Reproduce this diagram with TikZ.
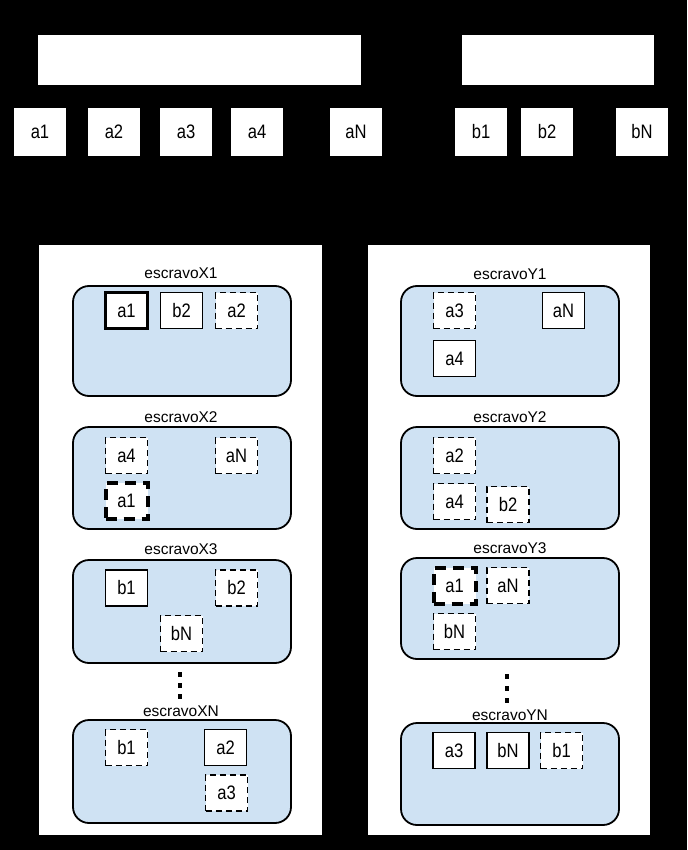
\documentclass[tikz,border=0pt]{standalone}
\usepackage{fontspec}
\setmainfont{Liberation Sans}
\newfontfamily\boxfont[FakeStretch=0.85]{Liberation Sans}
\definecolor{cardblue}{HTML}{CFE2F3}
\begin{document}
\begin{tikzpicture}[x=1pt,y=-1pt,
  hdr/.style={fill=white, inner sep=0pt, minimum width=52pt, minimum height=48pt, font=\boxfont\fontsize{19.5}{22}\selectfont},
  bigbar/.style={fill=white, inner sep=0pt},
  panel/.style={fill=white, inner sep=0pt},
  card/.style={draw=black, fill=cardblue, line width=1.8pt, rounded corners=16pt, inner sep=0pt, minimum width=218pt},
  lbl/.style={font=\fontsize{15.5}{18}\selectfont, inner sep=0pt},
  item/.style={draw=black, fill=white, line width=1.6pt, minimum width=42pt, minimum height=36pt, inner sep=0pt, font=\boxfont\fontsize{19.5}{22}\selectfont},
  prim/.style={item, line width=3.8pt},
  cand/.style={item, dash pattern=on 6pt off 4pt},
  primcand/.style={item, line width=4pt, dash pattern=on 11pt off 7pt},
  dotmark/.style={fill=black, inner sep=0pt, minimum width=4pt, minimum height=5pt}
]
\fill[black] (0,0) rectangle (687,850);
\useasboundingbox (0,0) rectangle (687,850);

% top bars
\node[bigbar, minimum width=323pt, minimum height=50pt] (tabA) at (199.5,60) {};
\node[bigbar, minimum width=192pt, minimum height=50pt] (tabB) at (558,60) {};

% top item row
\node[hdr] (ha1) at (40,132) {a1};
\node[hdr] (ha2) at (114,132) {a2};
\node[hdr] (ha3) at (186,132) {a3};
\node[hdr] (ha4) at (257,132) {a4};
\node[hdr] (haN) at (356,132) {aN};
\node[hdr] (hb1) at (481,132) {b1};
\node[hdr] (hb2) at (547,132) {b2};
\node[hdr] (hbN) at (642,132) {bN};

% panels
\node[panel, minimum width=283pt, minimum height=590pt] (panX) at (180.5,540) {};
\node[panel, minimum width=282pt, minimum height=590pt] (panY) at (509,540) {};

% ---------- X side ----------
\node[lbl] (lX1) at (181,273) {escravoX1};
\node[card, minimum height=110pt] (cX1) at (182,341) {};
\node[prim] (x1a1) at (126.5,310.5) {a1};
\node[item] (x1b2) at (181.5,310.5) {b2};
\node[cand] (x1a2) at (236.5,310.5) {a2};

\node[lbl] (lX2) at (181,417) {escravoX2};
\node[card, minimum height=102pt] (cX2) at (182,478) {};
\node[cand] (x2a4) at (126.5,455.5) {a4};
\node[cand] (x2aN) at (236.5,455.5) {aN};
\node[primcand] (x2a1) at (126.5,501) {a1};

\node[lbl] (lX3) at (181,549) {escravoX3};
\node[card, minimum height=103pt] (cX3) at (182,611.5) {};
\node[item] (x3b1) at (126.5,588) {b1};
\node[cand] (x3b2) at (236.5,588) {b2};
\node[cand] (x3bN) at (181.5,633.5) {bN};

\node[dotmark] (dX1) at (180,674) {};
\node[dotmark] (dX2) at (180,685) {};
\node[dotmark] (dX3) at (180,696) {};

\node[lbl] (lXN) at (181,711) {escravoXN};
\node[card, minimum height=103pt] (cXN) at (182,771.5) {};
\node[cand] (xNb1) at (126.5,747.5) {b1};
\node[item] (xNa2) at (225.5,747.5) {a2};
\node[cand] (xNa3) at (226.5,793) {a3};

% ---------- Y side ----------
\node[lbl] (lY1) at (510,274) {escravoY1};
\node[card, minimum height=110pt] (cY1) at (510,341) {};
\node[cand] (y1a3) at (454.5,310.5) {a3};
\node[item] (y1aN) at (563.5,310.5) {aN};
\node[item] (y1a4) at (454.5,358.5) {a4};

\node[lbl] (lY2) at (510,417) {escravoY2};
\node[card, minimum height=102pt] (cY2) at (510,478) {};
\node[cand] (y2a2) at (454.5,455.5) {a2};
\node[cand] (y2a4) at (454.5,501.5) {a4};
\node[cand] (y2b2) at (508,504.5) {b2};

\node[lbl] (lY3) at (510,548) {escravoY3};
\node[card, minimum height=101pt] (cY3) at (510,608.5) {};
\node[primcand] (y3a1) at (454.5,586) {a1};
\node[cand] (y3aN) at (508,585.5) {aN};
\node[cand] (y3bN) at (454.5,631.5) {bN};

\node[dotmark] (dY1) at (507,676) {};
\node[dotmark] (dY2) at (507,688) {};
\node[dotmark] (dY3) at (507,700) {};

\node[lbl] (lYN) at (510,715) {escravoYN};
\node[card, minimum height=102pt] (cYN) at (510,774) {};
\node[item] (yNa3) at (454,750.5) {a3};
\node[item] (yNbN) at (508,750.5) {bN};
\node[cand] (yNb1) at (561.5,750.5) {b1};
\end{tikzpicture}
\end{document}
